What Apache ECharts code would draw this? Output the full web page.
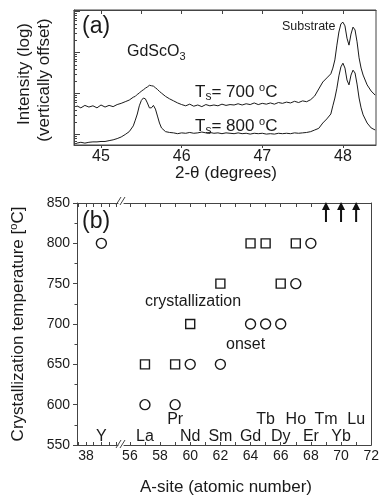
<!DOCTYPE html>
<html><head><meta charset="utf-8">
<script src="https://cdn.jsdelivr.net/npm/echarts@6/dist/echarts.min.js"></script>
<style>html,body{margin:0;padding:0;background:#fff}#c{width:382px;height:498px}</style>
</head><body><div id="c"></div>
<script>
// ---------- Panel (a): XRD scans (log10 intensity, vertically offset) ----------
const angles = [44.70,44.75,44.80,44.85,44.90,44.95,45.00,45.05,45.10,45.15,45.20,45.25,45.30,45.35,45.40,
  45.425,45.45,45.475,45.50,45.525,45.55,45.575,45.60,45.625,45.65,45.675,45.70,45.725,45.75,
  45.80,45.85,45.90,45.95,46.00,46.05,46.10,46.15,46.20,46.25,46.30,46.35,46.40,46.45,46.50,46.55,46.60,46.65,46.70,46.75,
  46.80,46.85,46.90,46.95,47.00,47.05,47.10,47.15,47.20,47.25,47.30,47.35,47.40,47.45,47.50,47.55,47.60,47.65,47.70,47.75,47.80,47.85,
  47.875,47.90,47.925,47.95,47.975,48.00,48.025,48.05,48.075,48.10,48.125,48.15,48.175,48.20,48.225,48.25,
  48.30,48.35,48.40];
const logI700 = [1.70,1.65,1.71,1.67,1.70,1.65,1.72,1.67,1.71,1.68,1.73,1.76,1.80,1.84,1.91,
  1.93,1.98,2.01,2.06,2.09,2.13,2.16,2.20,2.19,2.18,2.14,2.10,2.05,2.01,
  1.93,1.87,1.82,1.77,1.73,1.70,1.74,1.69,1.72,1.68,1.73,1.70,1.72,1.70,1.74,1.71,1.73,1.72,1.75,1.72,
  1.75,1.73,1.77,1.73,1.76,1.74,1.77,1.74,1.78,1.76,1.79,1.77,1.81,1.78,1.82,1.80,1.85,1.94,2.11,2.28,2.38,2.48,
  2.62,2.82,3.18,3.50,3.70,3.74,3.65,3.35,3.18,3.45,3.62,3.55,3.26,2.87,2.62,2.45,
  2.21,2.06,1.96];
const logI800 = [0.79,0.81,0.79,0.81,0.82,0.82,0.83,0.83,0.85,0.87,0.90,0.94,1.00,1.07,1.21,
  1.35,1.50,1.70,1.83,1.89,1.87,1.77,1.65,1.65,1.71,1.62,1.45,1.28,1.16,
  1.07,1.05,1.04,1.02,1.04,1.03,1.05,1.03,1.04,1.06,1.04,1.05,1.03,1.04,1.02,1.04,1.03,1.02,1.04,1.02,
  1.03,1.01,1.03,1.02,1.03,1.01,1.02,1.01,1.03,1.02,1.03,1.02,1.04,1.03,1.04,1.05,1.07,1.11,1.15,1.28,1.38,1.50,
  1.70,1.89,2.13,2.43,2.65,2.74,2.62,2.33,2.21,2.45,2.57,2.50,2.23,1.89,1.65,1.48,
  1.28,1.16,1.11];
const xTickLabelsA = [45,46,47,48];
const logDecades = [1,2,3,4];

// ---------- Panel (b): crystallization temperature vs A-site ----------
const elements      = ['Y','La','Pr','Nd','Sm','Gd','Tb','Dy','Ho','Er','Tm','Yb','Lu'];
const atomicNumbers = [39,57,59,60,62,64,65,66,67,68,69,70,71];
const upperRow      = ['Pr','Tb','Ho','Tm','Lu'];
const crystZ = [57,59,60,62,64,65,66,67];
const crystT = [650,650,700,750,800,800,750,800];
const onsetZ = [39,57,59,60,62,64,65,66,67,68];
const onsetT = [800,600,600,650,650,700,700,700,750,800];
const aboveRangeZ = [69,70,71];   // crystallization above 850 °C (arrows)
const xTickLabelsB = [38,56,58,60,62,64,66,68,70,72];
const yMinB = 550, yMaxB = 850, yStepB = 50;

// ---------- chart ----------
const FONT = 'Liberation Sans, Arial, Helvetica, sans-serif';
const INK = '#1a1a1a';
const AX = '#444';
const chart = echarts.init(document.getElementById('c'), null, {renderer: 'canvas'});

const aMin = 44.665, aMax = 48.41, lMin = 0.744, lMax = 4.037;
const minorLog = [];
for (let k = 0; k <= 4; k++) for (let m = 2; m <= 9; m++) { const v = k + Math.log10(m); if (v > lMin && v < lMax) minorLog.push(v); }
const halfTicksA = []; for (let v = 45; v <= 48.001; v += 0.5) halfTicksA.push(+v.toFixed(1));

const bLeftMin = 37.415, bLeftMax = 40.082, bRightMin = 55.61, bRightMax = 72;
const intTicksRight = []; for (let v = 56; v <= 71; v++) intTicksRight.push(v);
const halfTicksLeft = [37.5, 38, 38.5, 39, 39.5, 40];

const isLeft = z => z < 50;
const pairs = (zs, ts, pred) => zs.map((z, i) => [z, ts[i]]).filter(p => pred(p[0]));

const axisLineStyle = {lineStyle: {color: AX, width: 1}};
const lab = {color: INK, fontFamily: FONT};
const openMark = {color: 'rgba(0,0,0,0)', borderColor: INK, borderWidth: 1.4, opacity: 1};
const elemLabel = {show: true, position: 'inside', formatter: p => p.name, fontSize: 16, color: INK, fontFamily: FONT,
  opacity: 1, textBorderWidth: 0, textBorderColor: 'transparent', textShadowBlur: 0};
const elemData = pred => atomicNumbers.map((z, i) => ({name: elements[i], value: [z, upperRow.includes(elements[i]) ? 581 : 561]}))
  .filter(d => pred(d.value[0]));

const option = {
  animation: false,
  backgroundColor: '#fff',
  grid: [
    {left: 74, top: 10, width: 302, height: 135, show: true, borderColor: AX, borderWidth: 1, backgroundColor: 'transparent'},
    {left: 77, top: 203, width: 41, height: 242},
    {left: 124, top: 203, width: 252, height: 242}
  ],
  xAxis: [
    {gridIndex: 0, type: 'value', min: aMin, max: aMax, position: 'bottom', splitLine: {show: false},
      axisLine: axisLineStyle,
      axisTick: {show: true, inside: false, length: 3, customValues: xTickLabelsA, lineStyle: {color: AX}},
      axisLabel: Object.assign({fontSize: 16, margin: 4, customValues: xTickLabelsA}, lab)},
    {gridIndex: 0, type: 'value', min: aMin, max: aMax, position: 'top', splitLine: {show: false},
      axisLine: axisLineStyle,
      axisTick: {show: true, inside: true, length: 4, customValues: halfTicksA, lineStyle: {color: AX}},
      axisLabel: {show: false}},
    {gridIndex: 1, type: 'value', min: bLeftMin, max: bLeftMax, position: 'bottom', splitLine: {show: false},
      axisLine: axisLineStyle,
      axisTick: {show: true, inside: true, length: 3, customValues: halfTicksLeft, lineStyle: {color: AX}},
      axisLabel: Object.assign({fontSize: 14, margin: 4, customValues: xTickLabelsB.filter(isLeft)}, lab)},
    {gridIndex: 1, type: 'value', min: bLeftMin, max: bLeftMax, position: 'top', splitLine: {show: false},
      axisLine: axisLineStyle,
      axisTick: {show: true, inside: true, length: 4, customValues: halfTicksLeft, lineStyle: {color: AX}},
      axisLabel: {show: false}},
    {gridIndex: 2, type: 'value', min: bRightMin, max: bRightMax, position: 'bottom', splitLine: {show: false},
      axisLine: axisLineStyle,
      axisTick: {show: true, inside: true, length: 3, customValues: intTicksRight, lineStyle: {color: AX}},
      axisLabel: Object.assign({fontSize: 14, margin: 4, customValues: xTickLabelsB.filter(z => !isLeft(z))}, lab)},
    {gridIndex: 2, type: 'value', min: bRightMin, max: bRightMax, position: 'top', splitLine: {show: false},
      axisLine: axisLineStyle,
      axisTick: {show: true, inside: true, length: 4, customValues: intTicksRight, lineStyle: {color: AX}},
      axisLabel: {show: false}}
  ],
  yAxis: [
    {gridIndex: 0, type: 'value', min: lMin, max: lMax, position: 'left', splitLine: {show: false},
      axisLine: axisLineStyle,
      axisTick: {show: true, inside: true, length: 3, customValues: minorLog, lineStyle: {color: AX}},
      axisLabel: {show: false}},
    {gridIndex: 0, type: 'value', min: lMin, max: lMax, position: 'left', splitLine: {show: false},
      axisLine: {show: false},
      axisTick: {show: true, inside: true, length: 6, customValues: logDecades, lineStyle: {color: AX}},
      axisLabel: {show: false}},
    {gridIndex: 1, type: 'value', min: yMinB, max: yMaxB, interval: yStepB, position: 'left', splitLine: {show: false},
      axisLine: axisLineStyle,
      axisTick: {show: true, inside: false, length: 4, lineStyle: {color: AX}},
      minorTick: {show: true, splitNumber: 2, length: 2.5, lineStyle: {color: AX}},
      axisLabel: Object.assign({fontSize: 14, margin: 7}, lab)},
    {gridIndex: 2, type: 'value', min: yMinB, max: yMaxB, interval: yStepB, position: 'right', splitLine: {show: false},
      axisLine: axisLineStyle, axisTick: {show: false}, axisLabel: {show: false}}
  ],
  series: [
    {type: 'line', xAxisIndex: 0, yAxisIndex: 0, data: angles.map((a, i) => [a, logI700[i]]),
      showSymbol: false, symbol: 'none', lineStyle: {color: INK, width: 1}},
    {type: 'line', xAxisIndex: 0, yAxisIndex: 0, data: angles.map((a, i) => [a, logI800[i]]),
      showSymbol: false, symbol: 'none', lineStyle: {color: INK, width: 1}},
    // crystallization (squares)
    {type: 'scatter', xAxisIndex: 4, yAxisIndex: 3, data: pairs(crystZ, crystT, z => !isLeft(z)),
      symbol: 'rect', symbolSize: 9, itemStyle: openMark},
    // onset (circles)
    {type: 'scatter', xAxisIndex: 2, yAxisIndex: 2, data: pairs(onsetZ, onsetT, isLeft),
      symbol: 'circle', symbolSize: 10, itemStyle: openMark},
    {type: 'scatter', xAxisIndex: 4, yAxisIndex: 3, data: pairs(onsetZ, onsetT, z => !isLeft(z)),
      symbol: 'circle', symbolSize: 10, itemStyle: openMark},
    // arrows for > 850 °C
    {type: 'scatter', xAxisIndex: 4, yAxisIndex: 3, data: aboveRangeZ.map(z => [z, yMaxB]),
      symbol: 'path://M4,0 L8,8 L5,8 L5,20 L3,20 L3,8 L0,8 Z', symbolSize: [8, 20], symbolOffset: [0, 9],
      itemStyle: {color: '#111', opacity: 1}},
    // element names
    {type: 'scatter', xAxisIndex: 2, yAxisIndex: 2, symbolSize: 1, itemStyle: {color: 'rgba(0,0,0,0)', opacity: 1},
      data: elemData(isLeft), label: elemLabel},
    {type: 'scatter', xAxisIndex: 4, yAxisIndex: 3, symbolSize: 1, itemStyle: {color: 'rgba(0,0,0,0)', opacity: 1},
      data: elemData(z => !isLeft(z)), label: elemLabel}
  ],
  graphic: [
    {type: 'text', x: 82, y: 27, style: {text: '(a)', fontSize: 23, fontFamily: FONT, fill: INK, align: 'left', verticalAlign: 'middle'}},
    {type: 'text', x: 127, y: 52, style: {text: 'GdScO{s|3}', fontSize: 16, fontFamily: FONT, fill: INK, align: 'left', verticalAlign: 'middle',
      rich: {s: {fontSize: 11, fontFamily: FONT, fill: INK, padding: [9, 0, 0, 0]}}}},
    {type: 'text', x: 282, y: 27, style: {text: 'Substrate', fontSize: 12.5, fontFamily: FONT, fill: INK, align: 'left', verticalAlign: 'middle'}},
    {type: 'text', x: 195, y: 92, style: {text: 'T{s|s}= 700 {o|o}C', fontSize: 17, fontFamily: FONT, fill: INK, align: 'left', verticalAlign: 'middle',
      rich: {s: {fontSize: 12, fontFamily: FONT, fill: INK, padding: [10, 0, 0, 0]}, o: {fontSize: 11, fontFamily: FONT, fill: INK, padding: [0, 0, 8, 0]}}}},
    {type: 'text', x: 195, y: 126, style: {text: 'T{s|s}= 800 {o|o}C', fontSize: 17, fontFamily: FONT, fill: INK, align: 'left', verticalAlign: 'middle',
      rich: {s: {fontSize: 12, fontFamily: FONT, fill: INK, padding: [10, 0, 0, 0]}, o: {fontSize: 11, fontFamily: FONT, fill: INK, padding: [0, 0, 8, 0]}}}},
    {type: 'text', x: 226, y: 173, style: {text: '2-θ (degrees)', fontSize: 17, fontFamily: FONT, fill: INK, align: 'center', verticalAlign: 'middle'}},
    {type: 'text', x: 24, y: 74, rotation: Math.PI / 2, style: {text: 'Intensity (log)', fontSize: 17, fontFamily: FONT, fill: INK, align: 'center', verticalAlign: 'middle'}},
    {type: 'text', x: 44, y: 80, rotation: Math.PI / 2, style: {text: '(vertically offset)', fontSize: 17, fontFamily: FONT, fill: INK, align: 'center', verticalAlign: 'middle'}},
    {type: 'text', x: 82, y: 222, style: {text: '(b)', fontSize: 23, fontFamily: FONT, fill: INK, align: 'left', verticalAlign: 'middle'}},
    {type: 'text', x: 145, y: 302, style: {text: 'crystallization', fontSize: 16, fontFamily: FONT, fill: INK, align: 'left', verticalAlign: 'middle'}},
    {type: 'text', x: 226, y: 345, style: {text: 'onset', fontSize: 16, fontFamily: FONT, fill: INK, align: 'left', verticalAlign: 'middle'}},
    {type: 'text', x: 18, y: 324, rotation: Math.PI / 2, style: {text: 'Crystallization temperature [{o|o}C]', fontSize: 17, fontFamily: FONT, fill: INK, align: 'center', verticalAlign: 'middle',
      rich: {o: {fontSize: 11, fontFamily: FONT, fill: INK, padding: [0, 0, 8, 0]}}}},
    {type: 'text', x: 226, y: 487, style: {text: 'A-site (atomic number)', fontSize: 17, fontFamily: FONT, fill: INK, align: 'center', verticalAlign: 'middle'}},
    // axis break marks
    {type: 'line', shape: {x1: 116, y1: 205, x2: 121, y2: 197}, style: {stroke: AX, lineWidth: 1}},
    {type: 'line', shape: {x1: 120, y1: 205, x2: 125, y2: 197}, style: {stroke: AX, lineWidth: 1}},
    {type: 'line', shape: {x1: 116, y1: 448, x2: 121, y2: 440}, style: {stroke: AX, lineWidth: 1}},
    {type: 'line', shape: {x1: 120, y1: 448, x2: 125, y2: 440}, style: {stroke: AX, lineWidth: 1}}
  ]
};
chart.setOption(option);
</script>
</body></html>
